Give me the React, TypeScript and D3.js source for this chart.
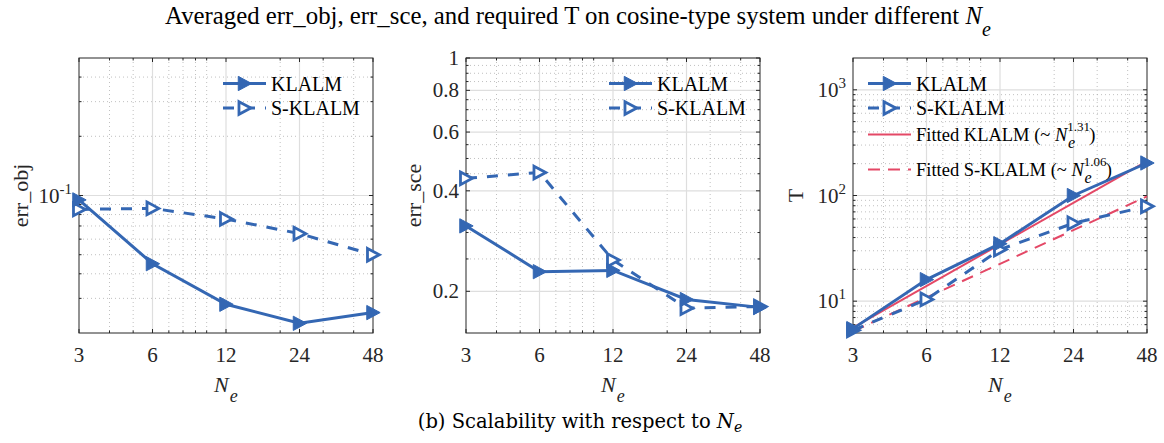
import React from "react";
import * as d3 from "d3";

// ---------- data ----------
const Ne = [3, 6, 12, 24, 48];
const xTickLabels = ["3", "6", "12", "24", "48"];
const xMinor = [4, 5, 7, 8, 9, 10, 20, 30, 40];

const errObjKLALM = [0.095, 0.045, 0.028, 0.0224, 0.0254];
const errObjSKLALM = [0.085, 0.086, 0.076, 0.064, 0.05];

const errSceKLALM = [0.314, 0.229, 0.231, 0.189, 0.179];
const errSceSKLALM = [0.436, 0.454, 0.248, 0.178, 0.18];

const timeKLALM = [5.5, 16, 35, 100, 203];
const timeSKLALM = [5.3, 10.4, 30.8, 54.7, 79];

const fitKLALM = { coef: 1.33, exp: 1.31 };
const fitSKLALM = { coef: 1.62, exp: 1.06 };

const seriesNames = ["KLALM", "S-KLALM"];

// ---------- style ----------
const BLUE = "#3467b3";
const RED = "#e44866";
const FONT = "'Liberation Serif', 'Times New Roman', serif";
const TOP = 58;
const BOTTOM = 333;
const W = 294;

type YAxisSpec = {
  domain: [number, number];
  major: number[];
  minor: number[];
  labels: (v: number, x: number, y: number, k: number) => React.ReactNode;
};

function triPath(s: number) {
  return `M${-s * 0.48},${-s * 0.55}L${s * 0.55},0L${-s * 0.48},${s * 0.55}Z`;
}

function Marker({ x, y, hollow, color }: { x: number; y: number; hollow?: boolean; color: string }) {
  return hollow ? (
    <path d={triPath(11.5)} transform={`translate(${x},${y})`} fill="white" stroke={color} strokeWidth={2.8} strokeLinejoin="miter" />
  ) : (
    <path d={triPath(13)} transform={`translate(${x},${y})`} fill={color} stroke={color} strokeWidth={1} />
  );
}

function FitLabel({ x, y, name, exp }: { x: number; y: number; name: string; exp: number }) {
  return (
    <text x={x} y={y} fontSize={18.5} fill="#000" fontFamily={FONT}>
      {"Fitted " + name + " (~ "}
      <tspan fontStyle="italic">N</tspan>
      <tspan dy={-10} fontSize={13}>
        {exp.toFixed(2)}
      </tspan>
      <tspan dx={-22} dy={17} fontSize={16} fontStyle="italic">
        e
      </tspan>
      <tspan dx={14} dy={-7}>
        )
      </tspan>
    </text>
  );
}

function Panel({
  left,
  yAxis,
  a,
  b,
  ylabel,
  ylabelX,
  legendX,
  fits,
}: {
  left: number;
  yAxis: YAxisSpec;
  a: number[];
  b: number[];
  ylabel: string;
  ylabelX: number;
  legendX: number;
  fits?: boolean;
}) {
  const x = d3.scaleLog().domain([3, 48]).range([left, left + W]);
  const y = d3.scaleLog().domain(yAxis.domain).range([BOTTOM, TOP]);
  const line = d3
    .line<number>()
    .x((_, i) => x(Ne[i]))
    .y((d) => y(d));
  const right = left + W;
  const fitLine = (f: { coef: number; exp: number }) =>
    d3
      .line<number>()
      .x((n) => x(n))
      .y((n) => y(f.coef * Math.pow(n, f.exp)))([3, 48]);

  const lx0 = left + legendX;
  const lx1 = lx0 + 43;
  const lm = (lx0 + lx1) / 2;
  const lt = lx1 + 5;
  const rows = [83.5, 108];

  return (
    <g>
      {xMinor.map((v) => (
        <line key={"xm" + v} x1={x(v)} x2={x(v)} y1={TOP} y2={BOTTOM} stroke="#b0b0b0" strokeWidth={0.8} strokeDasharray="1,3" />
      ))}
      {yAxis.minor.map((v) => (
        <line key={"ym" + v} x1={left} x2={right} y1={y(v)} y2={y(v)} stroke="#b0b0b0" strokeWidth={0.8} strokeDasharray="1,3" />
      ))}
      {Ne.slice(1, -1).map((v) => (
        <line key={"xg" + v} x1={x(v)} x2={x(v)} y1={TOP} y2={BOTTOM} stroke="#dedede" strokeWidth={1.2} />
      ))}
      {yAxis.major.map((v) => (
        <line key={"yg" + v} x1={left} x2={right} y1={y(v)} y2={y(v)} stroke="#dedede" strokeWidth={1.2} />
      ))}
      {Ne.map((v) => (
        <g key={"xt" + v}>
          <line x1={x(v)} x2={x(v)} y1={BOTTOM} y2={BOTTOM - 4} stroke="#262626" />
          <line x1={x(v)} x2={x(v)} y1={TOP} y2={TOP + 4} stroke="#262626" />
        </g>
      ))}
      {xMinor.map((v) => (
        <g key={"xtm" + v}>
          <line x1={x(v)} x2={x(v)} y1={BOTTOM} y2={BOTTOM - 2.5} stroke="#262626" />
          <line x1={x(v)} x2={x(v)} y1={TOP} y2={TOP + 2.5} stroke="#262626" />
        </g>
      ))}
      {yAxis.major.map((v) => (
        <g key={"yt" + v}>
          <line x1={left} x2={left + 4} y1={y(v)} y2={y(v)} stroke="#262626" />
          <line x1={right} x2={right - 4} y1={y(v)} y2={y(v)} stroke="#262626" />
        </g>
      ))}
      {yAxis.minor.map((v) => (
        <g key={"ytm" + v}>
          <line x1={left} x2={left + 2.5} y1={y(v)} y2={y(v)} stroke="#262626" />
          <line x1={right} x2={right - 2.5} y1={y(v)} y2={y(v)} stroke="#262626" />
        </g>
      ))}
      <rect x={left} y={TOP} width={W} height={BOTTOM - TOP} fill="none" stroke="#262626" strokeWidth={1} />
      {Ne.map((v, i) => (
        <text key={"xl" + v} x={x(v)} y={362} textAnchor="middle" fontSize={21} fill="#262626" fontFamily={FONT}>
          {xTickLabels[i]}
        </text>
      ))}
      {yAxis.major.map((v, k) => (
        <g key={"yl" + v}>{yAxis.labels(v, left - 7, y(v), k)}</g>
      ))}
      <text x={left + W / 2 - 12} y={392} fontSize={22} fontStyle="italic" fill="#262626" fontFamily={FONT}>
        N
        <tspan dx={1} dy={10} fontSize={18}>
          e
        </tspan>
      </text>
      <text
        transform={`translate(${ylabelX},${(TOP + BOTTOM) / 2}) rotate(-90)`}
        textAnchor="middle"
        fontSize={22}
        fill="#262626"
        fontFamily={FONT}
      >
        {ylabel}
      </text>
      {fits && (
        <g>
          <path d={fitLine(fitKLALM) || ""} fill="none" stroke={RED} strokeWidth={2} />
          <path d={fitLine(fitSKLALM) || ""} fill="none" stroke={RED} strokeWidth={2} strokeDasharray="12,8" />
        </g>
      )}
      <path d={line(b) || ""} fill="none" stroke={BLUE} strokeWidth={3} strokeDasharray="11,10" />
      <path d={line(a) || ""} fill="none" stroke={BLUE} strokeWidth={3} />
      {b.map((v, i) => (
        <Marker key={"mb" + i} x={x(Ne[i])} y={y(v)} hollow color={BLUE} />
      ))}
      {a.map((v, i) => (
        <Marker key={"ma" + i} x={x(Ne[i])} y={y(v)} color={BLUE} />
      ))}
      <line x1={lx0} x2={lx1} y1={rows[0]} y2={rows[0]} stroke={BLUE} strokeWidth={3} />
      <Marker x={lm} y={rows[0]} color={BLUE} />
      <text x={lt} y={rows[0] + 7} fontSize={20} fill="#000" fontFamily={FONT}>
        {seriesNames[0]}
      </text>
      <line x1={lx0} x2={lx1} y1={rows[1]} y2={rows[1]} stroke={BLUE} strokeWidth={3} strokeDasharray="11,10" />
      <Marker x={lm} y={rows[1]} hollow color={BLUE} />
      <text x={lt} y={rows[1] + 7} fontSize={20} fill="#000" fontFamily={FONT}>
        {seriesNames[1]}
      </text>
      {fits && (
        <g>
          <line x1={lx0} x2={lx1} y1={134.5} y2={134.5} stroke={RED} strokeWidth={2} />
          <FitLabel x={lt} y={141} name={seriesNames[0]} exp={fitKLALM.exp} />
          <line x1={lx0} x2={lx1} y1={169.5} y2={169.5} stroke={RED} strokeWidth={2} strokeDasharray="12,8" />
          <FitLabel x={lt} y={176} name={seriesNames[1]} exp={fitSKLALM.exp} />
        </g>
      )}
    </g>
  );
}

function minorLog(lo: number, hi: number, major: number[]) {
  const out: number[] = [];
  for (let e = Math.floor(Math.log10(lo)); e <= Math.ceil(Math.log10(hi)); e++) {
    for (let m = 1; m <= 9; m++) {
      const v = +(m * Math.pow(10, e)).toPrecision(6);
      if (v > lo * 1.0001 && v < hi * 0.9999 && !major.some((q) => Math.abs(q - v) / v < 1e-6)) out.push(v);
    }
  }
  return out;
}

const objMajor = [0.1];
const sceMajor = [0.2, 0.4, 0.6, 0.8, 1];
const sceMajorLabels = ["0.2", "0.4", "0.6", "0.8", "1"];
const sceMinor = [0.25, 0.3, 0.35, 0.45, 0.5, 0.55, 0.65, 0.7, 0.75, 0.85, 0.9, 0.95];
const timeMajor = [10, 100, 1000];
const timeExps = ["1", "2", "3"];

const powLabel = (base: string, exp: string) => (v: number, x: number, y: number) => (
  <text x={x} y={y + 7} textAnchor="end" fontSize={21} fill="#262626" fontFamily={FONT}>
    {base}
    <tspan dy={-9} fontSize={15}>
      {exp}
    </tspan>
  </text>
);

const objAxis: YAxisSpec = {
  domain: [0.02, 0.5],
  major: objMajor,
  minor: minorLog(0.02, 0.5, objMajor),
  labels: (v, x, y) => powLabel("10", "-1")(v, x, y),
};
const sceAxis: YAxisSpec = {
  domain: [0.15, 1],
  major: sceMajor,
  minor: sceMinor,
  labels: (v, x, y, k) => (
    <text x={x} y={y + 7} textAnchor="end" fontSize={21} fill="#262626" fontFamily={FONT}>
      {sceMajorLabels[k]}
    </text>
  ),
};
const timeAxis: YAxisSpec = {
  domain: [5, 2000],
  major: timeMajor,
  minor: minorLog(5, 2000, timeMajor),
  labels: (v, x, y, k) => powLabel("10", timeExps[k])(v, x, y),
};

export default function App() {
  return (
    <svg width={1164} height={443} style={{ position: "absolute", left: 0, top: 0, background: "white" }}>
      <text x={578} y={24} textAnchor="middle" fontSize={24.8} fill="#000" fontFamily={FONT}>
        Averaged err_obj, err_sce, and required T on cosine-type system under different{" "}
        <tspan fontStyle="italic">N</tspan>
        <tspan dy={12} fontSize={20} fontStyle="italic">
          e
        </tspan>
      </text>
      <Panel left={79} yAxis={objAxis} a={errObjKLALM} b={errObjSKLALM} ylabel="err_obj" ylabelX={28} legendX={144} />
      <Panel left={466} yAxis={sceAxis} a={errSceKLALM} b={errSceSKLALM} ylabel="err_sce" ylabelX={421} legendX={143} />
      <Panel left={853} yAxis={timeAxis} a={timeKLALM} b={timeSKLALM} ylabel="T" ylabelX={803} legendX={15} fits />
      <text x={580} y={428} textAnchor="middle" fontSize={19.5} fill="#000" fontFamily="'DejaVu Serif', serif">
        (b) Scalability with respect to <tspan fontStyle="italic">N</tspan>
        <tspan dy={4} fontSize={14} fontStyle="italic">
          e
        </tspan>
      </text>
    </svg>
  );
}
